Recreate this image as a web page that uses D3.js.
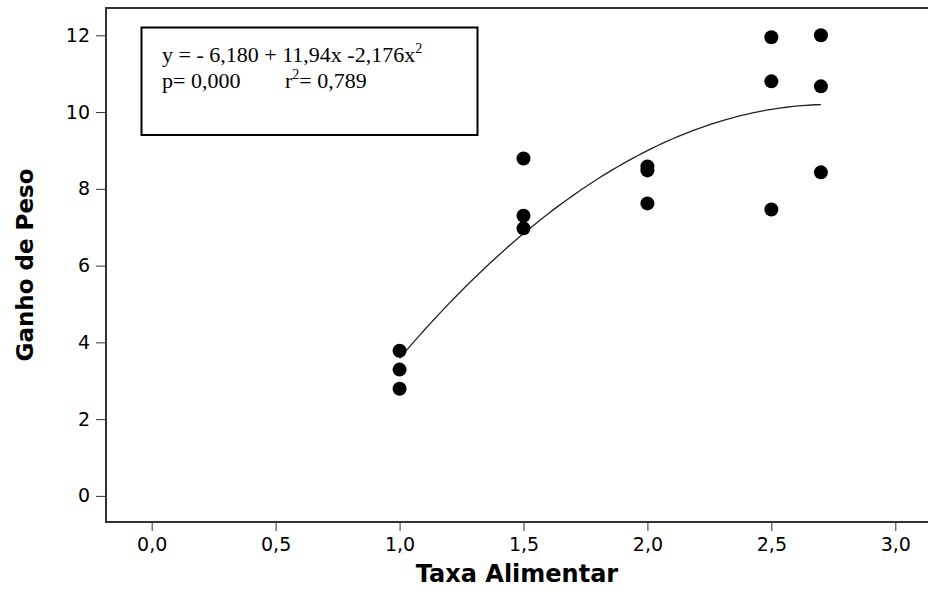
<!DOCTYPE html>
<html>
<head>
<meta charset="utf-8">
<script src="https://cdn.jsdelivr.net/npm/d3@7"></script>
<style>
  body { margin: 0; background: #fff; }
</style>
</head>
<body>
<div class="scatter-view"></div>
<script>
const taxa  = [1.0, 1.0, 1.0, 1.5, 1.5, 1.5, 2.0, 2.0, 2.0, 2.5, 2.5, 2.5, 2.7, 2.7, 2.7];
const ganho = [3.78, 3.29, 2.79, 8.79, 7.30, 6.97, 8.58, 8.48, 7.62, 11.95, 10.80, 7.46, 12.0, 10.67, 8.43];
// fitted quadratic, coefficients as printed on the chart
const coef = [-6.180, 11.94, -2.176];
const fitRange = [1.0, 2.7];
const xTicks = [0, 0.5, 1.0, 1.5, 2.0, 2.5, 3.0];
const yTicks = [0, 2, 4, 6, 8, 10, 12];

const width = 928, height = 599;
const frame = {left: 106, top: 8, bottom: 522, right: 940};

const svg = d3.select('.scatter-view').append('svg')
    .attr('width', width)
    .attr('height', height);

const scaleX = d3.scaleLinear().domain([0, 3]).range([151.7, 895.3]);
const scaleY = d3.scaleLinear().domain([0, 12]).range([495.9, 35.3]);

const fmt = d => d3.format('.1f')(d).replace('.', ',');

// frame (right side runs off the page, like the original)
svg.append('rect')
    .attr('x', frame.left)
    .attr('y', frame.top)
    .attr('width', frame.right - frame.left)
    .attr('height', frame.bottom - frame.top)
    .attr('fill', 'none')
    .attr('stroke', '#333')
    .attr('stroke-width', 2);

// x axis
const xAxis = g => g
    .attr('transform', `translate(0, ${frame.bottom})`)
    .call(d3.axisBottom(scaleX).tickValues(xTicks).tickFormat(fmt).tickSize(9).tickSizeOuter(0).tickPadding(7))
    .call(g => g.select('.domain').remove());

// y axis
const yAxis = g => g
    .attr('transform', `translate(${frame.left}, 0)`)
    .call(d3.axisLeft(scaleY).tickValues(yTicks).tickSize(10).tickSizeOuter(0).tickPadding(6))
    .call(g => g.select('.domain').remove());

svg.append('g').call(xAxis)
    .style('font', '19px "DejaVu Sans"')
    .selectAll('line').attr('stroke', '#333');
svg.append('g').call(yAxis)
    .style('font', '19px "DejaVu Sans"')
    .selectAll('line').attr('stroke', '#333');
svg.selectAll('.tick text').attr('fill', '#000');

// axis titles
svg.append('text')
    .attr('x', (frame.left + width) / 2)
    .attr('y', 582)
    .attr('text-anchor', 'middle')
    .style('font', 'bold 24px "DejaVu Sans"')
    .text('Taxa Alimentar');

svg.append('text')
    .attr('transform', `translate(33, ${(frame.top + frame.bottom) / 2}) rotate(-90)`)
    .attr('text-anchor', 'middle')
    .style('font', 'bold 23px "DejaVu Sans"')
    .text('Ganho de Peso');

// fitted curve
const fitX = d3.range(fitRange[0], fitRange[1] + 0.0001, 0.02);
const line = d3.line()
    .x(d => scaleX(d))
    .y(d => scaleY(coef[0] + coef[1] * d + coef[2] * d * d));
svg.append('path')
    .attr('d', line(fitX))
    .attr('fill', 'none')
    .attr('stroke', '#222')
    .attr('stroke-width', 1.3);

// points
svg.selectAll('circle')
    .data(taxa)
    .join('circle')
    .attr('cx', d => scaleX(d))
    .attr('cy', (d, i) => scaleY(ganho[i]))
    .attr('r', 7)
    .attr('fill', '#000');

// equation box
const box = {x: 141.5, y: 27.5, w: 336, h: 107.5};
svg.append('rect')
    .attr('x', box.x).attr('y', box.y)
    .attr('width', box.w).attr('height', box.h)
    .attr('fill', '#fff')
    .attr('stroke', '#000')
    .attr('stroke-width', 2);

const eq = svg.append('text')
    .attr('x', 162).attr('y', 62)
    .style('font', '22px "Liberation Serif"');
eq.append('tspan').text('y = - 6,180 + 11,94x -2,176x');
eq.append('tspan').attr('dy', -9).style('font-size', '14px').text('2');

const stats = svg.append('text')
    .attr('x', 162).attr('y', 88)
    .style('font', '22px "Liberation Serif"');
stats.append('tspan').text('p= 0,000');
stats.append('tspan').attr('x', 285).text('r');
stats.append('tspan').attr('dy', -9).style('font-size', '14px').text('2');
stats.append('tspan').attr('dy', 9).text('= 0,789');
</script>
</body>
